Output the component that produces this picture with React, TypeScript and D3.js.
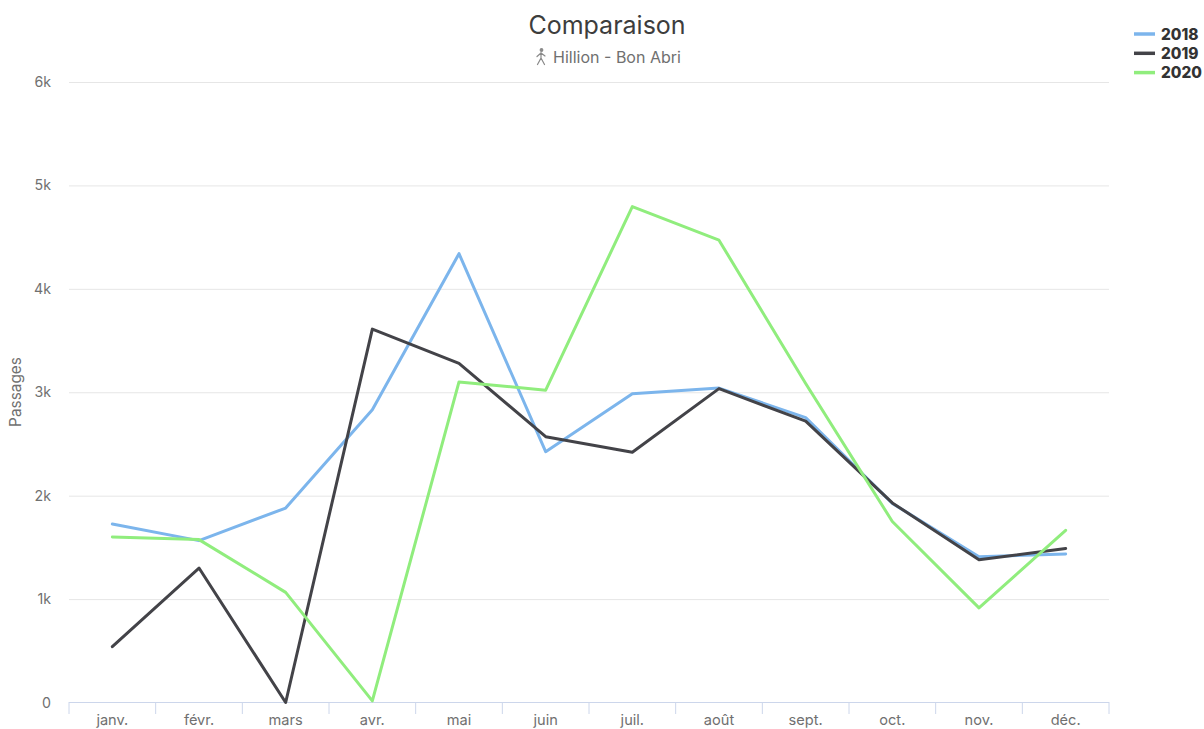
import React from "react";
import * as d3 from "d3";

const months = ["janv.", "févr.", "mars", "avr.", "mai", "juin", "juil.", "août", "sept.", "oct.", "nov.", "déc."];
const values2018 = [1730, 1570, 1885, 2835, 4345, 2430, 2990, 3045, 2760, 1930, 1415, 1440];
const values2019 = [545, 1305, 5, 3615, 3285, 2575, 2425, 3040, 2725, 1935, 1385, 1495];
const values2020 = [1605, 1580, 1070, 20, 3105, 3025, 4800, 4475, 3090, 1755, 920, 1670];
const yTicks = [0, 1000, 2000, 3000, 4000, 5000, 6000];
const series = [
  { name: "2018", values: values2018, color: "#7cb5ec" },
  { name: "2019", values: values2019, color: "#434348" },
  { name: "2020", values: values2020, color: "#90ed7d" },
];

const W = 1204, H = 729;
const FONT = "Inter, 'Open Sans', sans-serif";
const tickColor = "#707070";

export default function App() {
  const x = d3.scaleBand<string>().domain(months).range([69, 1109]);
  const y = d3.scaleLinear().domain([0, 6000]).range([703, 82.5]);
  const line = d3.line<number>()
    .x((_, i) => (x(months[i]) as number) + x.bandwidth() / 2)
    .y((d) => y(d));
  const fmt = (t: number) => (t === 0 ? "0" : `${t / 1000}k`);
  const edges = [...months.map((m) => x(m) as number), 1109];

  return (
    <svg width={W} height={H} style={{ position: "absolute", left: 0, top: 0, background: "#fff", fontFamily: FONT }}>
      <text x={607} y={33.5} textAnchor="middle" fontSize={25} fill="#3d3d3d">Comparaison</text>
      <g stroke="#8a8a8a" strokeWidth={1.2} fill="none" strokeLinecap="round">
        <circle cx={541.5} cy={50} r={1.3} fill="#8a8a8a" />
        <path d="M541 52.5 L541 58 L537.5 64.5 M541 58 L544.5 64.5 M541 53 L537 56.5 M541 53 L545 56" />
      </g>
      <text x={617} y={62.5} textAnchor="middle" fontSize={16} fill="#707070">Hillion - Bon Abri</text>

      {yTicks.map((t) => (
        <g key={t}>
          {t !== 0 && <line x1={69} x2={1109} y1={y(t)} y2={y(t)} stroke="#e6e6e6" strokeWidth={1} />}
          <text x={51} y={y(t) + 4.5} textAnchor="end" fontSize={14.2} fill={tickColor}>{fmt(t)}</text>
        </g>
      ))}
      <line x1={69} x2={1109} y1={702.5} y2={702.5} stroke="#ccd6eb" strokeWidth={1} />
      {edges.map((e, i) => (
        <line key={i} x1={e} x2={e} y1={702} y2={714} stroke="#ccd6eb" strokeWidth={1} />
      ))}
      {months.map((m) => (
        <text key={m} x={(x(m) as number) + x.bandwidth() / 2} y={725} textAnchor="middle" fontSize={14.6} fill={tickColor}>{m}</text>
      ))}
      <text transform="translate(21,392) rotate(-90)" textAnchor="middle" fontSize={15.4} fill="#707070">Passages</text>

      {series.map((s) => (
        <path key={s.name} d={line(s.values) as string} fill="none" stroke={s.color} strokeWidth={3} strokeLinejoin="round" strokeLinecap="round" />
      ))}

      {series.map((s, i) => (
        <g key={s.name}>
          <line x1={1134} x2={1155} y1={34 + i * 19.3} y2={34 + i * 19.3} stroke={s.color} strokeWidth={3.5} />
          <text x={1161} y={39.5 + i * 19.3} fontSize={15.4} fontWeight={800} fill="#333333">{s.name}</text>
        </g>
      ))}
    </svg>
  );
}
